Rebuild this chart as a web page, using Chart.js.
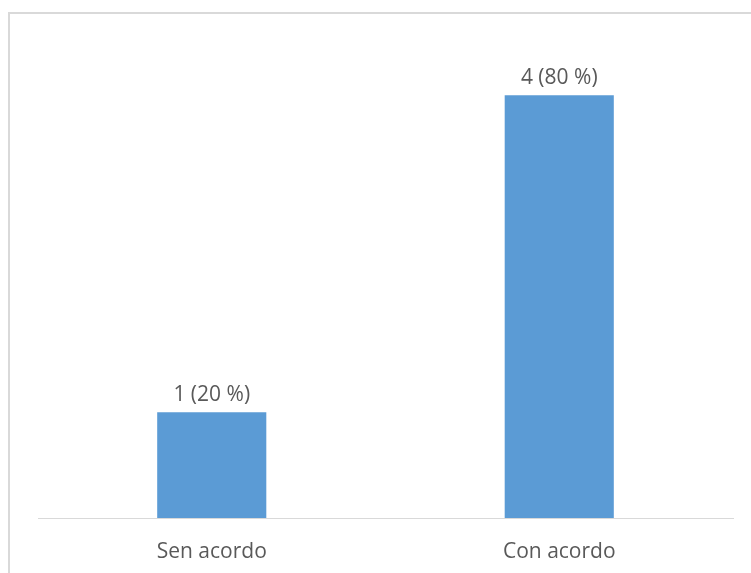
<!DOCTYPE html>
<html>
<head>
<meta charset="utf-8">
<script src="https://cdn.jsdelivr.net/npm/chart.js@4"></script>
<style>
  html, body { margin: 0; padding: 0; background: #fff; }
  .wrap { position: relative; width: 751px; height: 573px; overflow: hidden; }
  .frame { position: absolute; left: 8px; top: 12px; width: 800px; height: 600px; border: 2px solid #d9d9d9; box-sizing: border-box; }
  canvas { position: absolute; left: 0; top: 0; }
</style>
</head>
<body>
<div class="wrap">
  <div class="frame"></div>
  <canvas id="chart" width="751" height="573"></canvas>
</div>
<script>
// datos del gráfico
const categories = ['Sen acordo', 'Con acordo'];
const counts = [1, 4];
const percents = [20, 80];

const TEXT = '#595959';
const FONT = 'Open Sans';

// etiqueta encima de cada barra: "n (p %)"
const barLabels = {
  id: 'barLabels',
  afterDatasetsDraw(chart) {
    const ctx = chart.ctx;
    const meta = chart.getDatasetMeta(0);
    ctx.save();
    ctx.fillStyle = TEXT;
    ctx.font = '21px "' + FONT + '"';
    ctx.textAlign = 'center';
    ctx.textBaseline = 'middle';
    meta.data.forEach((bar, i) => {
      ctx.fillText(counts[i] + ' (' + percents[i] + ' %)', bar.x, bar.y - 17);
    });
    ctx.restore();
  }
};

new Chart(document.getElementById('chart'), {
  type: 'bar',
  data: {
    labels: categories,
    datasets: [{
      data: counts,
      backgroundColor: '#5B9BD5',
      borderWidth: 0,
      categoryPercentage: 1,
      barPercentage: 0.314
    }]
  },
  options: {
    responsive: false,
    animation: false,
    events: [],
    layout: { padding: { left: 38, right: 18, top: 0, bottom: 0 } },
    plugins: { legend: { display: false }, tooltip: { enabled: false } },
    scales: {
      x: {
        grid: { display: false, drawTicks: false },
        border: { display: true, color: '#d9d9d9', width: 1 },
        ticks: { color: TEXT, font: { family: FONT, size: 21 }, padding: 21 },
        afterFit(scale) { scale.height = 55; }
      },
      y: {
        display: false,
        min: 0,
        max: 4.9
      }
    }
  },
  plugins: [barLabels]
});
</script>
</body>
</html>
